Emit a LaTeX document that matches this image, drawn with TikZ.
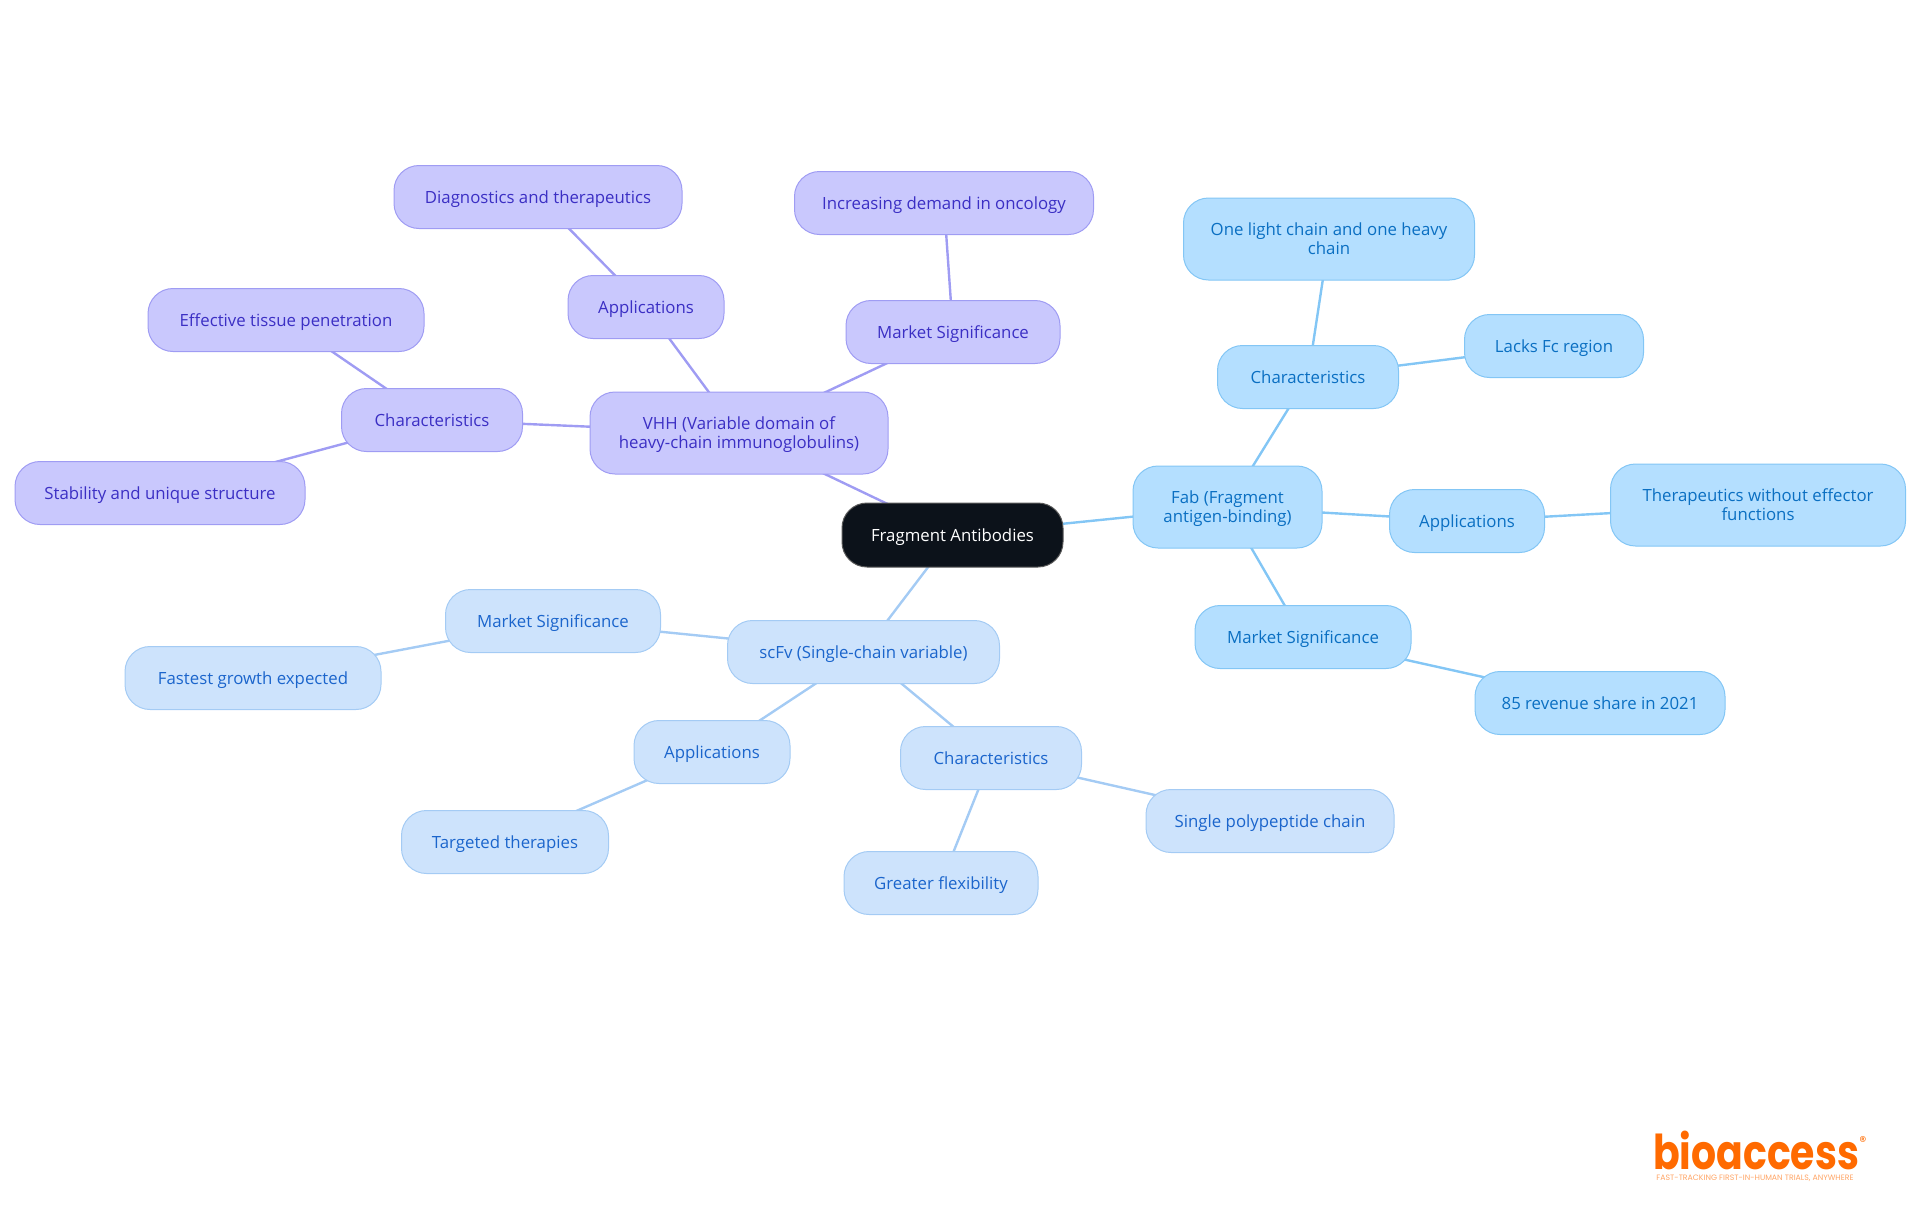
\documentclass[tikz,border=0pt]{standalone}
\usepackage{fontspec}
\setmainfont{Open Sans}
\newfontfamily\logofont{Poppins}
\usetikzlibrary{backgrounds}
\definecolor{rootfill}{HTML}{0C121A}
\definecolor{vhhfill}{HTML}{C9C8FD}
\definecolor{vhhline}{HTML}{9F9CF3}
\definecolor{vhhtext}{HTML}{3B2FC4}
\definecolor{fabfill}{HTML}{B4DFFF}
\definecolor{fabline}{HTML}{83C6F5}
\definecolor{fabtext}{HTML}{0A6FC2}
\definecolor{scfvfill}{HTML}{CDE3FC}
\definecolor{scfvline}{HTML}{A4CBF4}
\definecolor{scfvtext}{HTML}{1B65CC}
\definecolor{logoorange}{HTML}{FF6A00}
\newcommand{\maptop}{\rule{0pt}{9.2pt}}
\newcommand{\maptoptwo}{\rule{0pt}{8.8pt}}
\newcommand{\mapbottom}{\rule[-3pt]{0pt}{3pt}}
\tikzset{
  mapnode/.style={align=center,rectangle,rounded corners=12.5pt,minimum height=31.5pt,line width=0.5pt,text centered,inner ysep=0pt,font=\fontsize{8.4}{9.2}\selectfont,execute at begin node=\maptop,execute at end node=\mapbottom},
  twolines/.style={minimum height=41pt},
  rootnode/.style={mapnode,draw=gray!70!black,fill=rootfill,text=white},
  vhhnode/.style={mapnode,draw=vhhline,fill=vhhfill,text=vhhtext},
  fabnode/.style={mapnode,draw=fabline,fill=fabfill,text=fabtext},
  scfvnode/.style={mapnode,draw=scfvline,fill=scfvfill,text=scfvtext},
  vhhlink/.style={draw=vhhline,line width=1.2pt},
  fablink/.style={draw=fabline,line width=1.2pt},
  scfvlink/.style={draw=scfvline,line width=1.2pt}
}
\begin{document}
\begin{tikzpicture}[x=0.5pt,y=-0.5pt]
\useasboundingbox (0,0) rectangle (1920,1215);
% centre
\node (root)[rootnode,minimum width=110.5pt,minimum height=32pt] at (952.5,535) {Fragment Antibodies};
% VHH branch
\node (vhh)[vhhnode,twolines,minimum width=149pt] at (739,433) {\maptoptwo VHH (Variable domain of\\heavy-chain immunoglobulins)};
\node (vhhchar)[vhhnode,minimum width=90.5pt] at (432,420) {Characteristics};
\node (vhhtissue)[vhhnode,minimum width=138pt] at (286,320) {Effective tissue penetration};
\node (vhhstable)[vhhnode,minimum width=145pt] at (160,493) {Stability and unique structure};
\node (vhhapp)[vhhnode,minimum width=78pt] at (646,307) {Applications};
\node (vhhdiag)[vhhnode,minimum width=144pt] at (538,197) {Diagnostics and therapeutics};
\node (vhhmarket)[vhhnode,minimum width=107pt] at (953,332) {Market Significance};
\node (vhhdemand)[vhhnode,minimum width=149.5pt] at (944,203) {Increasing demand in oncology};
% Fab branch
\node (fab)[fabnode,twolines,minimum width=94.5pt] at (1227.5,507) {\maptoptwo Fab (Fragment\\antigen-binding)};
\node (fabchar)[fabnode,minimum width=90.5pt] at (1308,377) {Characteristics};
\node (fablight)[fabnode,twolines,minimum width=145.5pt] at (1329,239) {\maptoptwo One light chain and one heavy\\chain};
\node (fablacks)[fabnode,minimum width=89.5pt] at (1554,346) {Lacks Fc region};
\node (fabapp)[fabnode,minimum width=77.5pt] at (1467,521) {Applications};
\node (fabtherapy)[fabnode,twolines,minimum width=147.5pt] at (1758,505) {\maptoptwo Therapeutics without effector\\functions};
\node (fabmarket)[fabnode,minimum width=108pt] at (1303,637) {Market Significance};
\node (fabshare)[fabnode,minimum width=125pt] at (1600,703) {85 revenue share in 2021};
% scFv branch
\node (scfv)[scfvnode,minimum width=136pt] at (863.5,652) {scFv (Single-chain variable)};
\node (scfvmarket)[scfvnode,minimum width=107.5pt] at (553,621) {Market Significance};
\node (scfvgrowth)[scfvnode,minimum width=128pt] at (253,678) {Fastest growth expected};
\node (scfvapp)[scfvnode,minimum width=78pt] at (712,752) {Applications};
\node (scfvtarget)[scfvnode,minimum width=103.5pt] at (505,842) {Targeted therapies};
\node (scfvchar)[scfvnode,minimum width=90.5pt] at (991,758) {Characteristics};
\node (scfvchain)[scfvnode,minimum width=124pt] at (1270,821) {Single polypeptide chain};
\node (scfvflex)[scfvnode,minimum width=97pt] at (941,883) {Greater flexibility};
% logo
\node (logo)[text=logoorange,inner sep=0pt,font=\logofont\bfseries\fontsize{24}{24}\selectfont] at (1756,1150) {\scalebox{0.82}[1]{bioaccess}};
\node (logomark)[text=logoorange,inner sep=0pt,font=\logofont\fontsize{7}{7}\selectfont] at (1863,1142) {\textregistered};
\node (logotag)[text=logoorange!60,inner sep=0pt,font=\logofont\fontsize{3.9}{4}\selectfont] at (1755,1178) {FAST-TRACKING FIRST-IN-HUMAN TRIALS, ANYWHERE};
% links
\begin{pgfonlayer}{background}
\foreach \a/\b in {root/vhh,vhh/vhhchar,vhhchar/vhhtissue,vhhchar/vhhstable,vhh/vhhapp,vhhapp/vhhdiag,vhh/vhhmarket,vhhmarket/vhhdemand}
  \draw[vhhlink] (\a.center) -- (\b.center);
\foreach \a/\b in {root/fab,fab/fabchar,fabchar/fablight,fabchar/fablacks,fab/fabapp,fabapp/fabtherapy,fab/fabmarket,fabmarket/fabshare}
  \draw[fablink] (\a.center) -- (\b.center);
\foreach \a/\b in {root/scfv,scfv/scfvmarket,scfvmarket/scfvgrowth,scfv/scfvapp,scfvapp/scfvtarget,scfv/scfvchar,scfvchar/scfvchain,scfvchar/scfvflex}
  \draw[scfvlink] (\a.center) -- (\b.center);
\end{pgfonlayer}
\end{tikzpicture}
\end{document}
